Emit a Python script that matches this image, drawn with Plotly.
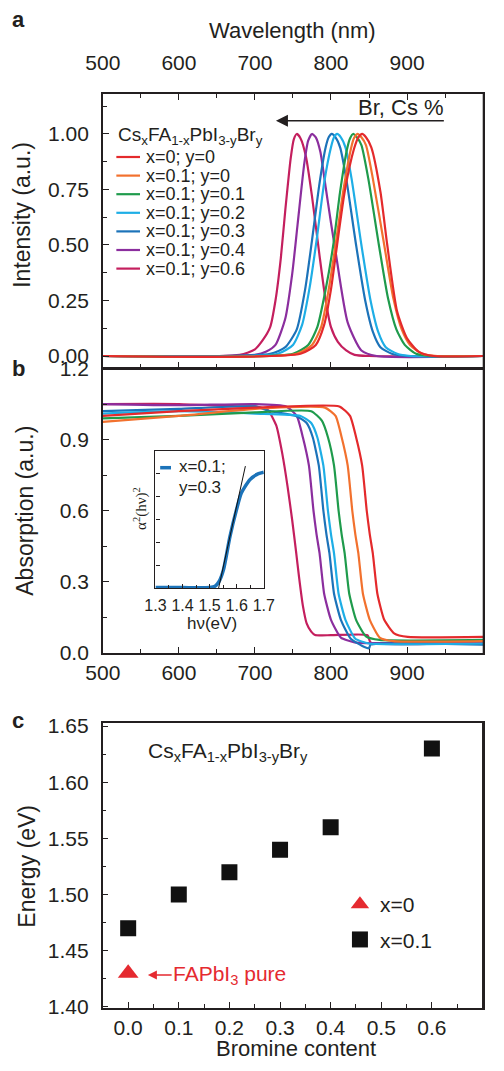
import plotly.graph_objects as go

# ---------------- data ----------------
series_labels = ["x=0; y=0", "x=0.1; y=0", "x=0.1; y=0.1", "x=0.1; y=0.2",
                 "x=0.1; y=0.3", "x=0.1; y=0.4", "x=0.1; y=0.6"]

# (a) photoluminescence, normalised
pl_wl_x0_y0 = [500, 760, 780, 791, 800, 808, 818, 830, 836, 841, 846, 853, 865, 874, 887, 900, 915, 935, 1000]
pl_int_x0_y0 = [0, 0.01, 0.05, 0.14, 0.30, 0.50, 0.74, 0.93, 0.985, 1.0, 0.985, 0.94, 0.74, 0.50, 0.20, 0.08, 0.02, 0.0, 0]
pl_wl_y00 = [500, 755, 775, 787, 797, 806, 816, 826, 830, 835, 840, 846, 855, 870, 882, 893, 904, 920, 940, 1000]
pl_int_y00 = [0, 0.01, 0.05, 0.13, 0.30, 0.50, 0.74, 0.93, 0.98, 1.0, 0.985, 0.95, 0.80, 0.50, 0.26, 0.12, 0.05, 0.01, 0, 0]
pl_wl_y01 = [500, 750, 770, 782, 793, 803, 812, 821, 825, 829, 834, 840, 849, 863, 875, 886, 897, 912, 930, 1000]
pl_int_y01 = [0, 0.01, 0.05, 0.13, 0.30, 0.50, 0.74, 0.93, 0.98, 1.0, 0.985, 0.95, 0.80, 0.50, 0.26, 0.12, 0.05, 0.01, 0, 0]
pl_wl_y02 = [500, 730, 750, 762, 772, 781, 791, 800, 804, 808, 813, 819, 827, 840, 852, 862, 872, 887, 905, 1000]
pl_int_y02 = [0, 0.01, 0.05, 0.14, 0.31, 0.52, 0.78, 0.94, 0.985, 1.0, 0.985, 0.94, 0.80, 0.50, 0.25, 0.11, 0.04, 0.01, 0, 0]
pl_wl_y03 = [500, 720, 740, 755, 766, 775, 785, 793, 797, 801, 806, 812, 820, 833, 845, 855, 865, 880, 900, 1000]
pl_int_y03 = [0, 0.01, 0.04, 0.12, 0.30, 0.52, 0.78, 0.94, 0.985, 1.0, 0.985, 0.94, 0.80, 0.50, 0.25, 0.11, 0.04, 0.01, 0, 0]
pl_wl_y04 = [500, 700, 715, 727, 740, 749, 756, 765, 770, 775, 780, 786, 793, 800, 806, 822, 840, 860, 1000]
pl_int_y04 = [0, 0.005, 0.02, 0.05, 0.17, 0.37, 0.59, 0.87, 0.97, 1.0, 0.985, 0.92, 0.76, 0.60, 0.47, 0.15, 0.025, 0, 0]
pl_wl_y06 = [500, 680, 700, 710, 720, 727, 734, 740, 747, 751, 755, 760, 767, 775, 785, 793, 800, 809, 820, 831, 850, 1000]
pl_int_y06 = [0, 0.005, 0.03, 0.07, 0.13, 0.25, 0.44, 0.66, 0.89, 0.975, 1.0, 0.98, 0.90, 0.72, 0.45, 0.25, 0.13, 0.064, 0.025, 0.005, 0, 0]

# (b) absorption
abs_wl_x0_y0 = [500, 600, 700, 811, 825, 833, 841, 847, 851, 855, 861, 870, 883, 901, 1000]
abs_a_x0_y0 = [1.00, 1.02, 1.035, 1.04, 1.0, 0.91, 0.79, 0.60, 0.50, 0.42, 0.25, 0.14, 0.083, 0.068, 0.068]
abs_wl_y00 = [500, 600, 700, 792, 806, 814, 822, 828, 832, 836, 842, 851, 864, 882, 1000]
abs_a_y00 = [0.975, 1.0, 1.03, 1.035, 1.0, 0.91, 0.79, 0.60, 0.50, 0.42, 0.25, 0.14, 0.065, 0.05, 0.05]
abs_wl_y01 = [500, 600, 700, 774, 788, 796, 804, 810, 814, 818, 824, 833, 846, 864, 1000]
abs_a_y01 = [0.99, 1.0, 1.015, 1.02, 0.98, 0.91, 0.79, 0.60, 0.50, 0.42, 0.25, 0.14, 0.07, 0.055, 0.055]
abs_wl_y02 = [500, 600, 700, 760, 774, 782, 790, 796, 800, 804, 810, 819, 832, 850, 1000]
abs_a_y02 = [1.01, 1.02, 1.01, 1.0, 0.97, 0.91, 0.79, 0.60, 0.50, 0.42, 0.25, 0.14, 0.06, 0.04, 0.04]
abs_wl_y03 = [500, 600, 700, 720, 754, 768, 776, 784, 790, 794, 798, 804, 813, 826, 844, 850, 852, 1000]
abs_a_y03 = [1.02, 1.03, 1.04, 1.02, 1.0, 0.97, 0.91, 0.79, 0.60, 0.50, 0.42, 0.25, 0.14, 0.06, 0.025, 0.02, 0.035, 0.035]
abs_wl_y04 = [500, 600, 700, 741, 755, 763, 771, 777, 781, 785, 791, 800, 813, 831, 1000]
abs_a_y04 = [1.05, 1.045, 1.05, 1.04, 1.0, 0.91, 0.79, 0.60, 0.50, 0.42, 0.25, 0.14, 0.065, 0.045, 0.045]
abs_wl_y06 = [500, 600, 680, 700, 717, 728, 736, 743, 749, 754, 758, 763, 768, 774, 779, 800, 848, 852, 1000]
abs_a_y06 = [1.05, 1.05, 1.04, 1.04, 1.025, 0.96, 0.84, 0.70, 0.56, 0.43, 0.32, 0.20, 0.125, 0.09, 0.076, 0.075, 0.075, 0.045, 0.045]

# inset: Tauc plot for x=0.1; y=0.3
tauc_hv = [1.30, 1.40, 1.50, 1.52, 1.535, 1.551, 1.575, 1.599, 1.617, 1.648, 1.675, 1.70]
tauc_val = [0.005, 0.005, 0.006, 0.015, 0.05, 0.134, 0.377, 0.571, 0.693, 0.79, 0.83, 0.845]
tauc_fit_hv = [1.533, 1.632]
tauc_fit_val = [0.0, 0.89]

# (c) band gap vs bromine content
br_x0 = [0.0]
eg_x0 = [1.43]
br_x01 = [0.0, 0.1, 0.2, 0.3, 0.4, 0.6]
eg_x01 = [1.47, 1.50, 1.52, 1.54, 1.56, 1.63]

# ---------------- style ----------------
series_colors = ["#e42a2c", "#f2712e", "#1f9b4c", "#1eaee6", "#1c73b9", "#8b2e9e", "#c41f5e"]
OFF = 8                      # page body margin of the browser
W, H = 504 - 2 * OFF, 1071 - 2 * OFF - 3
SX = 0.985                   # slight horizontal squeeze so the right frame stays in view
FONT = "Liberation Sans, Arial, sans-serif"
INK = "#231f20"
RED = "#e52a30"


def px(x):
    return (x - OFF) * SX / W


def py(y):
    return 1 - (y - OFF) / H


pl_wl = [pl_wl_x0_y0, pl_wl_y00, pl_wl_y01, pl_wl_y02, pl_wl_y03, pl_wl_y04, pl_wl_y06]
pl_int = [pl_int_x0_y0, pl_int_y00, pl_int_y01, pl_int_y02, pl_int_y03, pl_int_y04, pl_int_y06]
abs_wl = [abs_wl_x0_y0, abs_wl_y00, abs_wl_y01, abs_wl_y02, abs_wl_y03, abs_wl_y04, abs_wl_y06]
abs_a = [abs_a_x0_y0, abs_a_y00, abs_a_y01, abs_a_y02, abs_a_y03, abs_a_y04, abs_a_y06]

fig = go.Figure()

for i in range(len(series_labels) - 1, -1, -1):
    fig.add_trace(go.Scatter(x=pl_wl[i], y=pl_int[i], mode="lines", name=series_labels[i],
                             line=dict(color=series_colors[i], width=2.2, shape="spline", smoothing=0.6),
                             xaxis="x", yaxis="y", showlegend=False))
for i in range(len(series_labels) - 1, -1, -1):
    fig.add_trace(go.Scatter(x=abs_wl[i], y=abs_a[i], mode="lines", name=series_labels[i],
                             line=dict(color=series_colors[i], width=2.2, shape="spline", smoothing=0.5),
                             xaxis="x2", yaxis="y2", showlegend=False))

fig.add_trace(go.Scatter(x=tauc_hv, y=tauc_val, mode="lines",
                         line=dict(color="#1c73b9", width=3.5, shape="spline", smoothing=0.6),
                         xaxis="x4", yaxis="y4", showlegend=False))
fig.add_trace(go.Scatter(x=tauc_fit_hv, y=tauc_fit_val, mode="lines",
                         line=dict(color="#111", width=1),
                         xaxis="x4", yaxis="y4", showlegend=False))

fig.add_trace(go.Scatter(x=br_x0, y=eg_x0, mode="markers", name="x=0", legendgroup="g1",
                         marker=dict(symbol="triangle-up", size=18, color=RED),
                         xaxis="x3", yaxis="y3"))
fig.add_trace(go.Scatter(x=br_x01, y=eg_x01, mode="markers", name="x=0.1", legendgroup="g2",
                         marker=dict(symbol="square", size=16, color="#111"),
                         xaxis="x3", yaxis="y3"))

tickfont = dict(family=FONT, size=21, color=INK)
common = dict(showline=True, linewidth=1.5, linecolor=INK, showgrid=False, zeroline=False,
              ticks="inside", ticklen=6, tickwidth=1.3, tickcolor=INK, tickfont=tickfont,
              automargin=False)
minor_common = dict(ticks="inside", ticklen=4, tickwidth=1.3, tickcolor=INK)

xdom = [px(104.3), px(490.7)]
fig.update_layout(
    template="none",
    width=W, height=H, margin=dict(l=0, r=0, t=0, b=0, autoexpand=False),
    paper_bgcolor="white", plot_bgcolor="white",
    font=dict(family=FONT, color=INK),
    xaxis=dict(domain=xdom, anchor="y", side="top", range=[500, 1000.5], tick0=500, dtick=100,
               mirror="ticks", ticklabelstandoff=14, minor=dict(dtick=50, **minor_common), **common),
    yaxis=dict(domain=[py(368), py(94)], anchor="x", range=[-0.054, 1.18], tick0=0, dtick=0.25,
               tickformat=".2f", mirror=True, ticklabelstandoff=8,
               minor=dict(dtick=0.125, **minor_common), **common),
    xaxis2=dict(domain=xdom, anchor="y2", range=[500, 1000.5], tick0=500, dtick=100, mirror=True,
                ticklabelstandoff=0, minor=dict(dtick=50, **minor_common), **common),
    yaxis2=dict(domain=[py(653), py(368.5)], anchor="x2", range=[0, 1.2], tick0=0, dtick=0.3,
                tickformat=".1f", mirror=True, ticklabelstandoff=8,
                minor=dict(dtick=0.15, **minor_common), **common),
    xaxis3=dict(domain=[px(104), px(490)], anchor="y3", range=[-0.0506, 0.7005], tick0=0, dtick=0.1,
                tickformat=".1f", mirror=True, ticklabelstandoff=0,
                minor=dict(dtick=0.05, **minor_common), **common),
    yaxis3=dict(domain=[py(1008), py(723)], anchor="x3", range=[1.3991, 1.6527], tick0=1.4, dtick=0.05,
                tickformat=".2f", mirror=True, ticklabelstandoff=8,
                minor=dict(dtick=0.025, **minor_common), **common),
    xaxis4=dict(domain=[px(157.7), px(267.7)], anchor="y4", range=[1.3, 1.7], tick0=1.3, dtick=0.1,
                tickformat=".1f", showline=True, linewidth=1.3, linecolor=INK, mirror=True,
                showgrid=False, zeroline=False, ticks="inside", ticklen=4, tickwidth=1, tickcolor=INK,
                tickfont=dict(family=FONT, size=16, color=INK), ticklabelstandoff=2, automargin=False,
                minor=dict(ticks="inside", ticklen=3, dtick=0.05, tickwidth=1, tickcolor=INK)),
    yaxis4=dict(domain=[py(588.3), py(451)], anchor="x4", range=[0, 1], showline=True, linewidth=1.3,
                linecolor=INK, mirror=True, showgrid=False, zeroline=False, ticks="inside", ticklen=4,
                tickwidth=1, tickcolor=INK, tickvals=[1 / 6, 2 / 6, 3 / 6, 4 / 6, 5 / 6],
                showticklabels=False, automargin=False),
    legend=dict(x=px(345), y=py(884), xanchor="left", yanchor="top", bgcolor="rgba(0,0,0,0)",
                font=dict(family=FONT, size=21, color=INK), tracegroupgap=5, itemsizing="trace"),
)

ann = []


def text(x, y, s, size, **kw):
    d = dict(x=px(x), y=py(y), xref="paper", yref="paper", text=s, showarrow=False,
             xanchor="center", yanchor="middle",
             font=dict(family=kw.pop("family", FONT), size=size, color=kw.pop("color", INK)))
    d.update(kw)
    ann.append(d)


# panel letters
text(18.5, 20, "<b>a</b>", 22)
text(18.5, 369, "<b>b</b>", 22)
text(18.5, 720, "<b>c</b>", 22)

# axis titles
text(297, 30, "Wavelength (nm)", 22)
text(22, 215, "Intensity (a.u.)", 23, textangle=-90)
text(25, 511, "Absorption (a.u.)", 23, textangle=-90)
text(27, 866, "Energy (eV)", 23, textangle=-90)
text(300, 1048, "Bromine content", 22)

shapes = []
# right-hand frame edges of the three panels (drawn explicitly)
for (xr, y0, y1) in [(490.7, 94, 368), (490.7, 368.5, 653), (490, 723, 1008)]:
    shapes.append(dict(type="line", xref="paper", yref="paper", x0=px(xr), x1=px(xr),
                       y0=py(y0), y1=py(y1), line=dict(color=INK, width=1.5)))

# panel a legend (manual, tight spacing)
text(118, 136, "Cs<sub>x</sub>FA<sub>1-x</sub>PbI<sub>3-y</sub>Br<sub>y</sub>", 19, xanchor="left")
for i, lab in enumerate(series_labels):
    yy = 157 + 18.6 * i
    shapes.append(dict(type="line", xref="paper", yref="paper", x0=px(118), x1=px(142),
                       y0=py(yy), y1=py(yy), line=dict(color=series_colors[i], width=2.2)))
    text(146, yy, lab, 18, xanchor="left")

# Br, Cs % arrow
text(453, 107, "Br, Cs %", 22, xanchor="right")
ann.append(dict(x=px(280), y=py(120.7), xref="paper", yref="paper", text="", showarrow=True,
                ax=172 * SX, ay=0, axref="pixel", ayref="pixel", arrowhead=2, arrowsize=1.6,
                arrowwidth=1.5, arrowcolor=INK))

# inset legend
shapes.append(dict(type="line", xref="paper", yref="paper", x0=px(162.5), x1=px(173.5),
                   y0=py(467.7), y1=py(467.7), line=dict(color="#1c73b9", width=3.5)))
text(180, 467, "x=0.1;", 17, xanchor="left")
text(180, 487, "y=0.3", 17, xanchor="left")
text(143, 508, "α<sup>2</sup>(hν)<sup>2</sup>", 15, textangle=-90, family="Liberation Serif, serif")
text(215, 623, "hν(eV)", 17)

# panel c texts
text(148, 752, "Cs<sub>x</sub>FA<sub>1-x</sub>PbI<sub>3-y</sub>Br<sub>y</sub>", 21, xanchor="left")
ann.append(dict(x=px(150), y=py(975), xref="paper", yref="paper",
                text="FAPbI<sub>3</sub> pure", showarrow=True, ax=83 * SX, ay=0, axref="pixel",
                ayref="pixel", arrowhead=2, arrowsize=1.2, arrowwidth=1.5, arrowcolor=RED,
                font=dict(family=FONT, size=21, color=RED)))

fig.update_layout(annotations=ann, shapes=shapes)
fig.write_html("out.html")
